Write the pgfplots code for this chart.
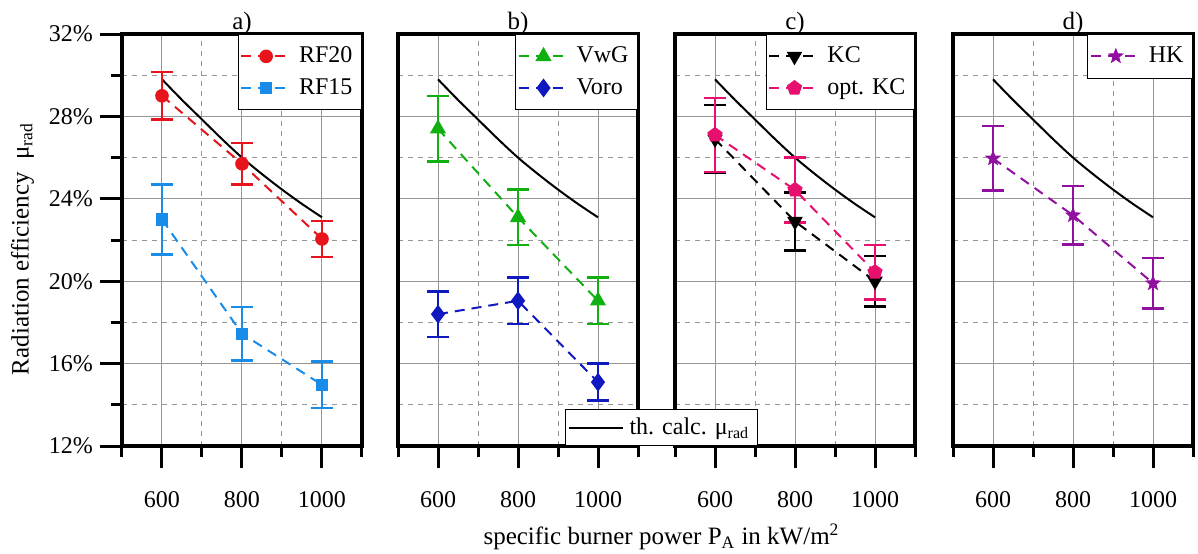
\documentclass[border=0pt]{standalone}
\usepackage{fontspec}
\setmainfont{Liberation Serif}
\usepackage{pgfplots}
\usepackage{pgfplotstable}
\pgfplotsset{compat=1.18}
\usetikzlibrary{plotmarks}

\definecolor{cRFa}{RGB}{232,20,28}
\definecolor{cRFb}{RGB}{24,140,232}
\definecolor{cVwG}{RGB}{16,176,16}
\definecolor{cVoro}{RGB}{16,24,192}
\definecolor{cOpt}{RGB}{232,16,110}
\definecolor{cHK}{RGB}{144,16,160}
\definecolor{gridgray}{RGB}{150,150,150}

\pgfdeclareplotmark{fstar}{%
  \pgfpathmoveto{\pgfqpointpolar{90}{\pgfplotmarksize}}%
  \pgfpathlineto{\pgfqpointpolar{126}{0.42\pgfplotmarksize}}%
  \pgfpathlineto{\pgfqpointpolar{162}{\pgfplotmarksize}}%
  \pgfpathlineto{\pgfqpointpolar{198}{0.42\pgfplotmarksize}}%
  \pgfpathlineto{\pgfqpointpolar{234}{\pgfplotmarksize}}%
  \pgfpathlineto{\pgfqpointpolar{270}{0.42\pgfplotmarksize}}%
  \pgfpathlineto{\pgfqpointpolar{306}{\pgfplotmarksize}}%
  \pgfpathlineto{\pgfqpointpolar{342}{0.42\pgfplotmarksize}}%
  \pgfpathlineto{\pgfqpointpolar{18}{\pgfplotmarksize}}%
  \pgfpathlineto{\pgfqpointpolar{54}{0.42\pgfplotmarksize}}%
  \pgfpathclose
  \pgfusepathqfillstroke
}

\pgfplotstableread{
x y
600 29.80
650 28.80
700 27.85
750 26.90
800 26.00
850 25.20
900 24.45
950 23.75
1000 23.10
}\theory

\pgfplotstableread{
x y e
600 29.00 1.15
800 25.70 1.00
1000 22.05 0.88
}\RFtwenty
\pgfplotstableread{
x y e
600 23.00 1.70
800 17.45 1.30
1000 14.97 1.12
}\RFfifteen
\pgfplotstableread{
x y e
600 27.40 1.60
800 23.10 1.35
1000 19.05 1.12
}\VwG
\pgfplotstableread{
x y e
600 18.40 1.10
800 19.05 1.12
1000 15.10 0.90
}\Voro
\pgfplotstableread{
x y e
600 26.90 1.65
800 22.90 1.40
1000 20.00 1.23
}\KC
\pgfplotstableread{
x y e
600 27.10 1.80
800 24.43 1.57
1000 20.44 1.32
}\optKC
\pgfplotstableread{
x y e
600 25.96 1.57
800 23.20 1.42
1000 19.90 1.22
}\HK

\pgfplotsset{
  panel/.style={
    scale only axis, width=120pt, height=206pt,
    xmin=500, xmax=1100, ymin=12, ymax=32,
    xtick={600,800,1000}, minor xtick={500,700,900,1100},
    ytick={12,16,...,32}, minor ytick={14,18,...,30},
    grid=both,
    major grid style={gridgray, line width=0.5pt},
    minor grid style={gridgray, line width=0.5pt, dash pattern=on 2.5pt off 2.5pt},
    axis line style={line width=1.9pt},
    tick align=outside,
    xtick pos=bottom, ytick pos=left,
    major tick length=11pt, minor tick length=5.5pt,
    tick style={black, line width=1.5pt},
    font=\fontsize{12}{14}\selectfont,
    tick label style={font=\fontsize{12}{14}\selectfont},
    /pgf/number format/assume math mode=true,
    /pgf/number format/1000 sep={},
    xticklabel style={yshift=-8pt},
    title style={font=\fontsize{12.5}{15}\selectfont, inner sep=2pt, yshift=-8.5pt},
    legend style={at={(1,1)}, anchor=north east, draw=black, line width=0.5pt,
      fill=white, font=\fontsize{12}{14}\selectfont, inner xsep=1pt, inner ysep=3pt,
      nodes={inner xsep=3.5pt, inner ysep=3.2pt}},
    legend cell align=left,
    legend image code/.code={\draw[mark repeat=2, mark phase=2, ##1] plot coordinates {(0pt,0pt) (12.5pt,0pt) (25pt,0pt)};},
  },
  noy/.style={yticklabels={}, ytick style={draw=none}},
  ser/.style={line width=1pt, dash pattern=on 5pt off 3.5pt, mark options={solid},
    error bars/y dir=both, error bars/y explicit,
    error bars/error bar style={line width=1.3pt, solid},
    error bars/error mark options={line width=1.3pt, mark size=5.5pt, solid, rotate=90}},
  th/.style={black, line width=1pt, smooth, forget plot},
}

\begin{document}
\begin{tikzpicture}
\useasboundingbox (-61pt,-53.5pt) rectangle (538pt,223pt);

% a)
\begin{axis}[panel, at={(0pt,0pt)}, title={a)},
  yticklabel={\pgfmathprintnumber{\tick}\%},
  ylabel={Radiation efficiency\ \ μ\textsubscript{rad}},
  ylabel style={at={(axis description cs:-0.415,0.478)}, anchor=center, font=\fontsize{12.5}{15}\selectfont}]
\addplot[th] table[x=x,y=y] {\theory};
\addplot[ser, color=cRFa, mark=*, mark size=2.9pt] table[x=x,y=y,y error=e] {\RFtwenty};
\addlegendentry{RF20}
\addplot[ser, color=cRFb, mark=square*, mark size=2.6pt] table[x=x,y=y,y error=e] {\RFfifteen};
\addlegendentry{RF15}
\end{axis}

% b)
\begin{axis}[panel, noy, at={(138pt,0pt)}, title={b)}]
\addplot[th] table[x=x,y=y] {\theory};
\addplot[ser, color=cVwG, mark=triangle*, mark size=3.7pt] table[x=x,y=y,y error=e] {\VwG};
\addlegendentry{VwG}
\addplot[ser, color=cVoro, mark=diamond*, mark size=3.9pt] table[x=x,y=y,y error=e] {\Voro};
\addlegendentry{Voro}
\end{axis}

% c)
\begin{axis}[panel, noy, at={(276.5pt,0pt)}, title={c)}]
\addplot[th] table[x=x,y=y] {\theory};
\addplot[ser, color=black, mark=triangle*, mark size=3.5pt, mark options={solid, rotate=180}] table[x=x,y=y,y error=e] {\KC};
\addlegendentry{KC}
\addplot[ser, color=cOpt, mark=pentagon*, mark size=3.4pt] table[x=x,y=y,y error=e] {\optKC};
\addlegendentry{opt. KC}
\end{axis}

% d)
\begin{axis}[panel, noy, at={(415.5pt,0pt)}, title={d)}]
\addplot[th] table[x=x,y=y] {\theory};
\addplot[ser, color=cHK, mark=fstar, mark size=3.6pt, mark options={solid, fill=cHK, line width=0.5pt}] table[x=x,y=y,y error=e] {\HK};
\addlegendentry{HK}
\end{axis}

% legend of the theoretical curve
\begin{axis}[hide axis, scale only axis, width=120pt, height=206pt, at={(0pt,0pt)},
  xmin=0, xmax=1, ymin=0, ymax=1,
  legend style={at={(axis description cs:1.846,0)}, anchor=south west, draw=black, line width=0.5pt,
    fill=white, font=\fontsize{12}{14}\selectfont, inner xsep=1pt, inner ysep=2.5pt,
    nodes={inner xsep=3pt, inner ysep=1.5pt}},
  legend image code/.code={\draw[#1] (0pt,0pt) -- (27pt,0pt);}]
\addlegendimage{black, line width=1pt}
\addlegendentry{th. calc. μ\textsubscript{rad}}
\end{axis}

\node[font=\fontsize{12.5}{15}\selectfont] at (269.75pt,-45.5pt) {specific burner power P\textsubscript{A} in kW/m\textsuperscript{2}};
\end{tikzpicture}
\end{document}
